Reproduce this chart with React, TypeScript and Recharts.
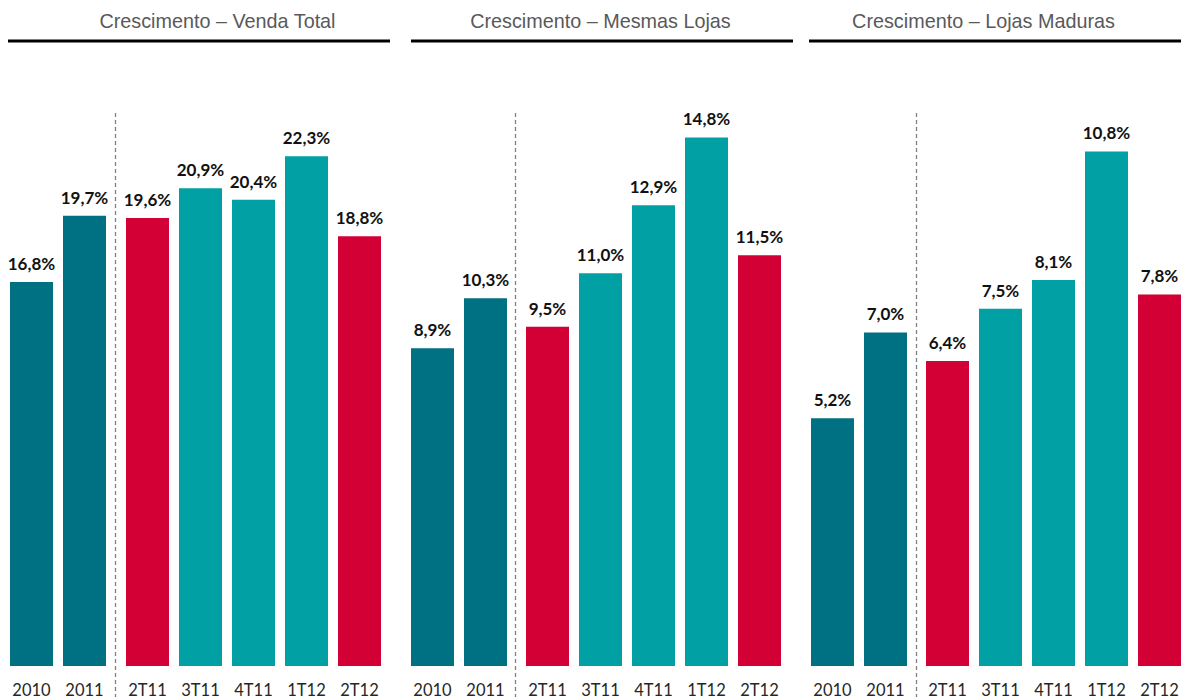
import React from 'react';
import { BarChart, Bar, XAxis, YAxis, Cell, LabelList } from 'recharts';

// ---- Data ----
const annualCategories = ['2010', '2011'];
const quarterCategories = ['2T11', '3T11', '4T11', '1T12', '2T12'];

const panelTitles = [
  'Crescimento – Venda Total',
  'Crescimento – Mesmas Lojas',
  'Crescimento – Lojas Maduras',
];

const vendaTotalAnual = [16.8, 19.7];
const vendaTotalTrim = [19.6, 20.9, 20.4, 22.3, 18.8];
const mesmasLojasAnual = [8.9, 10.3];
const mesmasLojasTrim = [9.5, 11.0, 12.9, 14.8, 11.5];
const lojasMadurasAnual = [5.2, 7.0];
const lojasMadurasTrim = [6.4, 7.5, 8.1, 10.8, 7.8];

const DARK_TEAL = '#007083';
const TEAL = '#00A0A5';
const RED = '#D20034';
const annualColors = [DARK_TEAL, DARK_TEAL];
const quarterColors = [RED, TEAL, TEAL, TEAL, RED];

// ---- Layout ----
const W = 1181;
const H = 697;
const PLOT_TOP = 100;
const AXIS_H = 31;
const BAND = 53;
const BAR = 43;

const panels = [
  { title: panelTitles[0], annual: vendaTotalAnual, trim: vendaTotalTrim, max: 24.76, leftX: 5, rightX: 121, dashX: 115.5, titleX: 217.5, lineX1: 8, lineX2: 390 },
  { title: panelTitles[1], annual: mesmasLojasAnual, trim: mesmasLojasTrim, max: 15.85, leftX: 406, rightX: 521, dashX: 515.5, titleX: 600.5, lineX1: 411, lineX2: 793 },
  { title: panelTitles[2], annual: lojasMadurasAnual, trim: lojasMadurasTrim, max: 11.88, leftX: 806, rightX: 921, dashX: 916.5, titleX: 983.5, lineX1: 809, lineX2: 1181 },
];

const fmt = (v: any) => Number(v).toFixed(1).replace('.', ',') + '%';

const tickStyle = { fontFamily: 'Lato', fontSize: 16.5, fill: '#262626' };
const labelStyle = { fontFamily: 'Lato', fontSize: 17, fontWeight: 700, fill: '#111111' };

function SubChart({ cats, values, colors, max, left }: { cats: string[]; values: number[]; colors: string[]; max: number; left: number }) {
  const data = cats.map((c, i) => ({ cat: c, value: values[i] }));
  return (
    <div style={{ position: 'absolute', left, top: 0 }}>
      <BarChart width={cats.length * BAND} height={H} data={data} margin={{ top: PLOT_TOP, right: 0, bottom: 0, left: 0 }} barSize={BAR}>
        <XAxis dataKey="cat" axisLine={false} tickLine={false} tickSize={6} tickMargin={12} height={AXIS_H} interval={0} tick={tickStyle} />
        <YAxis hide domain={[0, max]} />
        <Bar dataKey="value" isAnimationActive={false}>
          {data.map((d, i) => (
            <Cell key={d.cat} fill={colors[i]} />
          ))}
          <LabelList dataKey="value" position="top" offset={12} formatter={fmt} style={labelStyle} />
        </Bar>
      </BarChart>
    </div>
  );
}

export default function App() {
  return (
    <div style={{ position: 'absolute', left: 0, top: 0, width: W, height: H, overflow: 'hidden', background: '#fff' }}>
      <svg width={W} height={H} style={{ position: 'absolute', left: 0, top: 0 }}>
        {panels.map((p) => (
          <g key={p.title}>
            <text x={p.titleX} y={28} textAnchor="middle" fontFamily="'Liberation Sans', Arial, sans-serif" fontSize={19.8} fill="#595959">
              {p.title}
            </text>
            <line x1={p.lineX1} x2={p.lineX2} y1={41} y2={41} stroke="#000" strokeWidth={3} />
            <line x1={p.dashX} x2={p.dashX} y1={113} y2={H} stroke="#808080" strokeWidth={1.3} strokeDasharray="4 3" />
          </g>
        ))}
      </svg>
      {panels.map((p) => (
        <React.Fragment key={p.title}>
          <SubChart cats={annualCategories} values={p.annual} colors={annualColors} max={p.max} left={p.leftX} />
          <SubChart cats={quarterCategories} values={p.trim} colors={quarterColors} max={p.max} left={p.rightX} />
        </React.Fragment>
      ))}
    </div>
  );
}
